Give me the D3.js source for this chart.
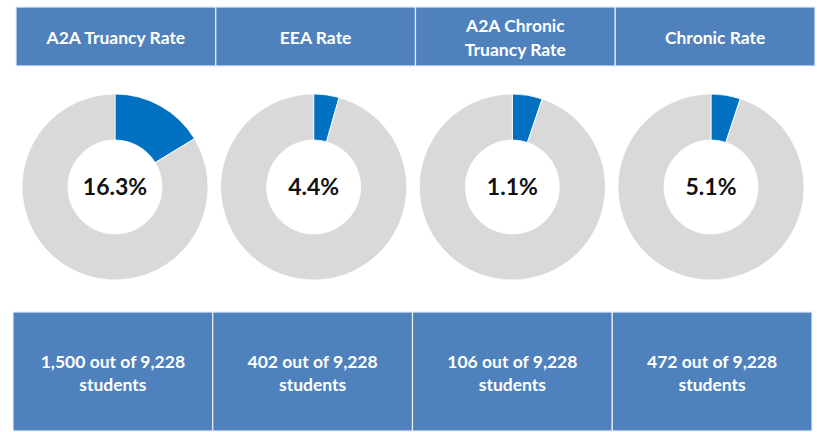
<!DOCTYPE html>
<html>
<head>
<meta charset="utf-8">
<script src="https://cdn.jsdelivr.net/npm/d3@7"></script>
<style>
  body { margin: 0; background: #fff; }
  svg { display: block; font-family: Lato, "Open Sans", sans-serif; }
</style>
</head>
<body>
<svg></svg>
<script>
const headers = [["A2A Truancy Rate"], ["EEA Rate"], ["A2A Chronic", "Truancy Rate"], ["Chronic Rate"]];
const rateLabels = ["16.3%", "4.4%", "1.1%", "5.1%"];
// wedge sizes as drawn (percent of ring)
const wedgeShares = [16.3, 4.4, 5.2, 5.1];
const counts = ["1,500", "402", "106", "472"];
const totalStudents = "9,228";

const width = 817, height = 432;
const svg = d3.select("svg").attr("width", width).attr("height", height);

const keys = d3.range(headers.length);
const topX = d3.scaleBand().domain(keys).range([16, 815]);
const botX = d3.scaleBand().domain(keys).range([13, 812]);
const ringX = d3.scalePoint().domain(keys).range([115, 711]);

const cellFill = "#4f81bd";
const fs = 17.5;

// header row
const head = svg.append("g").selectAll("g").data(keys).enter().append("g");
head.append("rect")
  .attr("x", d => topX(d)).attr("y", 7)
  .attr("width", topX.bandwidth()).attr("height", 59)
  .attr("fill", cellFill).attr("stroke", "#e8eef7").attr("stroke-width", 1.2);
head.each(function(d) {
  const lines = headers[d];
  const g = d3.select(this);
  const cy = 38, lh = 24;
  lines.forEach((t, i) => {
    g.append("text")
      .attr("x", topX(d) + topX.bandwidth() / 2)
      .attr("y", cy + (i - (lines.length - 1) / 2) * lh)
      .attr("dy", "0.35em")
      .attr("text-anchor", "middle")
      .attr("fill", "#fff").attr("font-weight", "bold").attr("font-size", fs)
      .text(t);
  });
});

// donuts
const pie = d3.pie().sort(null).startAngle(0).endAngle(2 * Math.PI);
const arc = d3.arc().innerRadius(47).outerRadius(93);
const rings = svg.append("g").selectAll("g").data(keys).enter().append("g")
  .attr("transform", d => `translate(${ringX(d)},187)`);
rings.selectAll("path")
  .data(d => pie([wedgeShares[d], 100 - wedgeShares[d]]))
  .enter().append("path")
  .attr("d", arc)
  .attr("fill", (p, i) => i === 0 ? "#0070c0" : "#d9d9d9")
  .attr("stroke", "#fff").attr("stroke-width", 0.8);
rings.append("text")
  .attr("text-anchor", "middle").attr("dy", "0.35em")
  .attr("font-size", 23).attr("font-weight", "bold").attr("fill", "#111")
  .text(d => rateLabels[d]);

// bottom row
const foot = svg.append("g").selectAll("g").data(keys).enter().append("g");
foot.append("rect")
  .attr("x", d => botX(d)).attr("y", 312)
  .attr("width", botX.bandwidth()).attr("height", 119)
  .attr("fill", cellFill).attr("stroke", "#e8eef7").attr("stroke-width", 1.2);
foot.append("text")
  .attr("x", d => botX(d) + botX.bandwidth() / 2).attr("y", 362)
  .attr("dy", "0.35em").attr("text-anchor", "middle")
  .attr("fill", "#fff").attr("font-weight", "bold").attr("font-size", fs)
  .text(d => `${counts[d]} out of ${totalStudents}`);
foot.append("text")
  .attr("x", d => botX(d) + botX.bandwidth() / 2).attr("y", 385)
  .attr("dy", "0.35em").attr("text-anchor", "middle")
  .attr("fill", "#fff").attr("font-weight", "bold").attr("font-size", fs)
  .text("students");
</script>
</body>
</html>
